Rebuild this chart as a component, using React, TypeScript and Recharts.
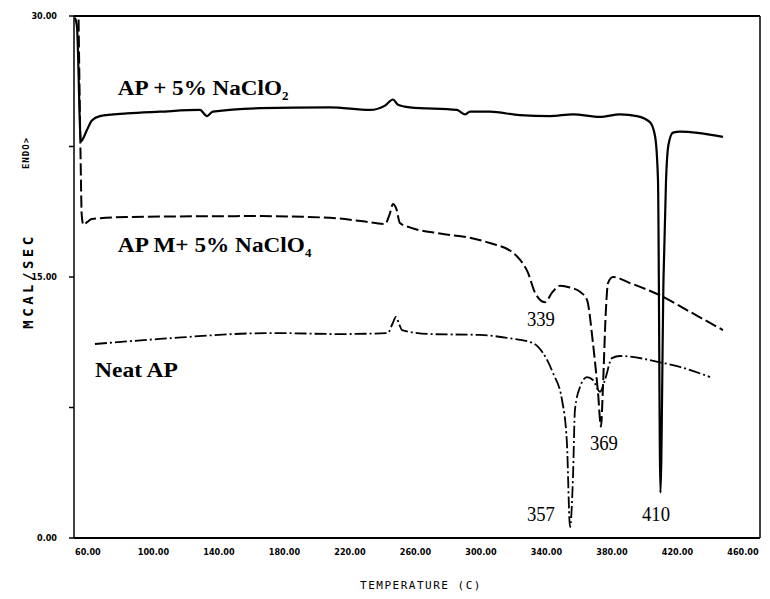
import React from "react";
import { LineChart, Line, XAxis, YAxis, ReferenceLine, ReferenceDot } from "recharts";

const xTicks = [60, 100, 140, 180, 220, 260, 300, 340, 380, 420, 460];
const yTicks = [0, 7.5, 15, 22.5, 30];
const yTickLabels = ["0.00", "", "15.00", "", "30.00"];

// temperature (C), mcal/sec
const apNaClO2 = [
  [52.1, 29.9], [53.3, 29.4], [55.7, 22.8], [59.4, 23.45], [62.4, 24.0], [67.3, 24.25],
  [83.8, 24.4], [104, 24.5], [128.4, 24.6], [132.7, 24.25], [136.3, 24.5], [165, 24.7],
  [207.8, 24.75], [232.2, 24.6], [241.4, 24.85], [246.3, 25.2], [249.3, 24.9], [256.6, 24.75],
  [285.3, 24.6], [290.2, 24.35], [293.3, 24.5], [305.5, 24.5], [323.8, 24.3], [342.1, 24.25],
  [356.2, 24.35], [372.7, 24.2], [384.9, 24.35], [395.3, 24.25], [403.2, 23.9], [406.3, 23.1],
  [408.1, 20.6], [409.6, 2.6], [411.5, 15], [413, 20.5], [414.5, 22.6], [417.3, 23.3],
  [421.5, 23.35], [447.8, 23.05],
];

const apNaClO4 = [
  [54.3, 29.8], [55.5, 22], [56.2, 18.6], [57.2, 18.0], [59.5, 18.15], [62.4, 18.33],
  [83.8, 18.45], [165, 18.5], [207.8, 18.4], [228, 18.2], [241.4, 18.05], [244.4, 18.65],
  [246.3, 19.2], [248.4, 18.9], [250.5, 18.1], [256.6, 17.85], [275, 17.5], [293.3, 17.25],
  [305.5, 16.95], [319.5, 16.4], [323.8, 16.0], [328.7, 15.25], [333, 14.1], [339.1, 13.55],
  [343.4, 14.1], [348.3, 14.5], [354.4, 14.4], [360.5, 14.15], [364.7, 13.7], [368.4, 11.2],
  [371.5, 8.33], [373.3, 6.4], [374.5, 8.7], [376.3, 13.1], [377.6, 14.65], [380.6, 15.0],
  [391, 14.65], [409.3, 13.95], [427.6, 13.0], [447.8, 11.95],
];

const neatAP = [
  [64.3, 11.15], [104, 11.44], [173, 11.78], [213.9, 11.72], [243.2, 11.78], [245.9, 12.3],
  [248.1, 12.7], [250, 12.3], [251.8, 11.95], [268.9, 11.72], [299.4, 11.67], [315.9, 11.5],
  [331.8, 11.2], [337.9, 10.63], [344, 9.48], [349.5, 7.93], [352.5, 5.46], [354.4, 0.63],
  [356.2, 3.5], [357.4, 7.36], [360.5, 8.68], [364.7, 9.25], [368.4, 9.08], [372.7, 8.4],
  [375.7, 9.08], [380, 10.34], [384.9, 10.46], [409.3, 10.1], [421.5, 9.83], [439.9, 9.25],
];

// curve names and peak temperatures, placed at (temperature, value)
const curveNames = [
  { t: 78.3, v: 25.86, text: "AP + 5% NaClO", sub: "2", width: 172 },
  { t: 78.3, v: 16.84, text: "AP M+ 5% NaClO", sub: "4", width: 195 },
  { t: 64.3, v: 9.66, text: "Neat AP", sub: "", width: 83 },
];
const peakLabels = [
  { t: 336.6, v: 12.59, text: "339" },
  { t: 375.1, v: 5.46, text: "369" },
  { t: 336.6, v: 1.38, text: "357" },
  { t: 406.9, v: 1.38, text: "410" },
];

const toRows = (pts: number[][]) => pts.map(([t, v]) => ({ t, v }));

const tickFont = { fontSize: 9, fontWeight: "bold", fontFamily: "'DejaVu Sans Condensed', 'DejaVu Sans'", fill: "#000" };
const serif = "'Liberation Serif', 'Times New Roman', serif";

function nameLabel(text: string, sub: string, width: number) {
  return (props: any) => {
    const vb = props.viewBox || {};
    const x = vb.x + (vb.width || 0) / 2;
    const y = vb.y + (vb.height || 0) / 2;
    return (
      <text x={x} y={y} dy="0.35em" fontFamily={serif} fontWeight="bold" fontSize={21} fill="#000">
        <tspan textLength={sub ? width - 8 : width} lengthAdjust="spacingAndGlyphs">{text}</tspan>
        {sub ? <tspan dy={5} fontSize={13}>{sub}</tspan> : null}
      </text>
    );
  };
}

function peakLabel(text: string) {
  return (props: any) => {
    const vb = props.viewBox || {};
    const x = vb.x + (vb.width || 0) / 2;
    const y = vb.y + (vb.height || 0) / 2;
    return (
      <text x={x} y={y} dy="0.35em" textAnchor="middle" fontFamily={serif} fontSize={21} fill="#000"
        textLength={28} lengthAdjust="spacingAndGlyphs">
        {text}
      </text>
    );
  };
}

export default function App() {
  return (
    <div style={{ position: "absolute", left: 0, top: 0, width: 770, height: 599, background: "#fff" }}>
      <LineChart width={770} height={599} margin={{ top: 16, right: 10, bottom: 0, left: 0 }}>
        <XAxis
          type="number"
          dataKey="t"
          domain={[51.5, 470.4]}
          ticks={xTicks}
          tickFormatter={(v: number) => v.toFixed(2)}
          tick={tickFont}
          tickLine={false}
          tickMargin={5}
          height={61}
          axisLine={{ stroke: "#000", strokeWidth: 2 }}
          allowDataOverflow
        />
        <YAxis
          type="number"
          dataKey="v"
          domain={[0, 30]}
          ticks={yTicks}
          tickFormatter={(v: number) => yTickLabels[yTicks.indexOf(v)]}
          tick={tickFont}
          tickSize={5}
          tickMargin={12}
          width={74}
          axisLine={{ stroke: "#000", strokeWidth: 1.5 }}
          tickLine={{ stroke: "#000", strokeWidth: 1.5 }}
          allowDataOverflow
        />
        <ReferenceLine y={30} stroke="#000" strokeWidth={2} />
        <ReferenceLine x={470.4} stroke="#000" strokeWidth={1.5} />
        <Line data={toRows(apNaClO2)} dataKey="v" type="monotone" stroke="#000" strokeWidth={2.2} dot={false} isAnimationActive={false} />
        <Line data={toRows(apNaClO4)} dataKey="v" type="monotone" stroke="#000" strokeWidth={2} strokeDasharray="12 4" dot={false} isAnimationActive={false} />
        <Line data={toRows(neatAP)} dataKey="v" type="monotone" stroke="#000" strokeWidth={1.8} strokeDasharray="12 3 2 3" dot={false} isAnimationActive={false} />
        {curveNames.map((c) => (
          <ReferenceDot key={c.text} x={c.t} y={c.v} r={1} fill="none" stroke="none" label={nameLabel(c.text, c.sub, c.width)} />
        ))}
        {peakLabels.map((p) => (
          <ReferenceDot key={p.text} x={p.t} y={p.v} r={1} fill="none" stroke="none" label={peakLabel(p.text)} />
        ))}
      </LineChart>
      <div style={{ position: "absolute", left: 28, top: 281, transform: "translate(-50%, -50%) rotate(-90deg)", fontFamily: "'DejaVu Sans Mono', monospace", fontSize: 14, fontWeight: "bold", letterSpacing: 3.5, whiteSpace: "nowrap", color: "#000" }}>
        MCAL/SEC
      </div>
      <div style={{ position: "absolute", left: 26, top: 153, transform: "translate(-50%, -50%) rotate(-90deg)", fontFamily: "'DejaVu Sans Mono', monospace", fontSize: 9, fontWeight: "bold", letterSpacing: 1, whiteSpace: "nowrap", color: "#000" }}>
        ENDO&gt;
      </div>
      <div style={{ position: "absolute", left: 421, top: 585, transform: "translate(-50%, -50%)", fontFamily: "'DejaVu Sans Mono', monospace", fontSize: 11, letterSpacing: 1.5, whiteSpace: "nowrap", color: "#000" }}>
        TEMPERATURE (C)
      </div>
    </div>
  );
}
